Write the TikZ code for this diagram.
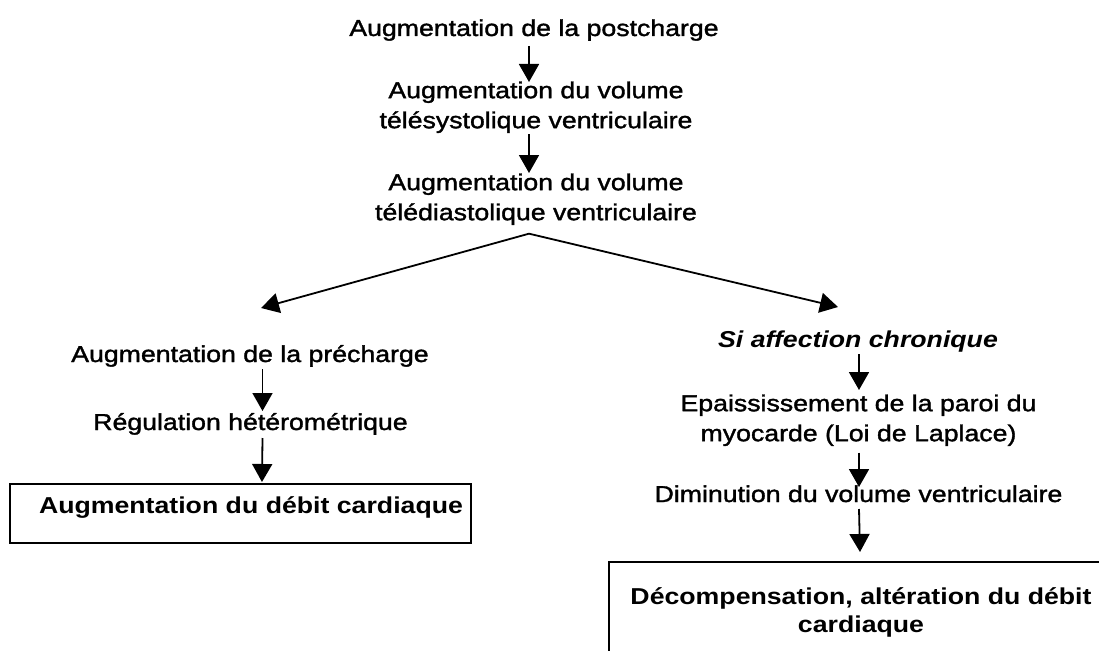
\documentclass[tikz,border=0pt]{standalone}
\usepackage{fontspec}
\setmainfont{Liberation Sans}[FakeStretch=1.16, UprightFeatures={FakeBold=1.5}]
\usetikzlibrary{arrows.meta}
\begin{document}
\begin{tikzpicture}[x=1pt,y=-1pt,
  txt/.style={inner sep=0pt, font=\fontsize{23}{30}\selectfont},
  txtc/.style={txt, align=center, anchor=north},
  arr/.style={-{Triangle[length=18pt,width=20pt]}, line width=1.8pt},
  boxed/.style={draw, line width=2pt, inner sep=0pt, font=\fontsize{23}{28}\selectfont\bfseries}]
\path[use as bounding box, fill=white] (0,0) rectangle (1099,650);
\clip (0,0) rectangle (1099,650);
% central column
\node[txt, anchor=base] (n1) at (534,36) {Augmentation de la postcharge};
\node[txtc] (n2) at (536,74) {\rule{0pt}{24pt}Augmentation du volume\\télésystolique ventriculaire};
\node[txtc] (n3) at (536,166) {\rule{0pt}{24pt}Augmentation du volume\\télédiastolique ventriculaire};
% left column
\node[txt, anchor=base] (n4) at (250,362) {Augmentation de la précharge};
\node[txt, anchor=base] (n5) at (250.5,430) {Régulation hétérométrique};
\node[boxed, anchor=north west] (box1) at (9,483)
  {\hspace*{29pt}\rule[-30pt]{0pt}{59pt}Augmentation du débit cardiaque\hspace*{8pt}};
% right column
\node[txt, anchor=base, font=\fontsize{23}{30}\selectfont\bfseries\itshape] (n7) at (858,347) {Si affection chronique};
\node[txtc] (n8) at (858.5,387) {\rule{0pt}{24pt}Epaississement de la paroi du\\myocarde (Loi de Laplace)};
\node[txt, anchor=base] (n9) at (858.5,502) {Diminution du volume ventriculaire};
\node[boxed, anchor=north west, minimum width=504pt, align=center] (box2) at (608,561)
  {\rule{0pt}{42pt}Décompensation, altération du débit\\cardiaque\rule[-80pt]{0pt}{0pt}};
% connectors
\draw[arr] ([xshift=-5pt,yshift=-10pt]n1.base) -- ([xshift=-7pt,yshift=-8pt]n2.north);
\draw[arr] ([xshift=-7pt,yshift=-1pt]n2.south) -- ([xshift=-7pt,yshift=-7pt]n3.north);
\coordinate (apex) at ([xshift=-7pt,yshift=-8.5pt]n3.south);
\draw[arr] (apex) -- ([xshift=11pt,yshift=54pt]n4.base);
\draw[arr] (apex) -- ([xshift=-20pt,yshift=40pt]n7.base);
\draw[arr] ([xshift=12.5pt,yshift=-7pt]n4.base) -- ([xshift=12pt,yshift=19pt]n5.base);
\draw[arr] ([xshift=12pt,yshift=-8pt]n5.base) -- ([xshift=21.5pt,yshift=1pt]box1.north);
\draw[arr] ([xshift=1pt,yshift=-7pt]n7.base) -- ([xshift=0.5pt,yshift=-3pt]n8.north);
\draw[arr] ([xshift=0.5pt,yshift=-6.5pt]n8.south) -- ([xshift=0.5pt,yshift=15pt]n9.base);
\draw[arr] ([xshift=0.5pt,yshift=-7pt]n9.base) -- ([xshift=-1pt,yshift=9pt]box2.north);
\end{tikzpicture}
\end{document}
